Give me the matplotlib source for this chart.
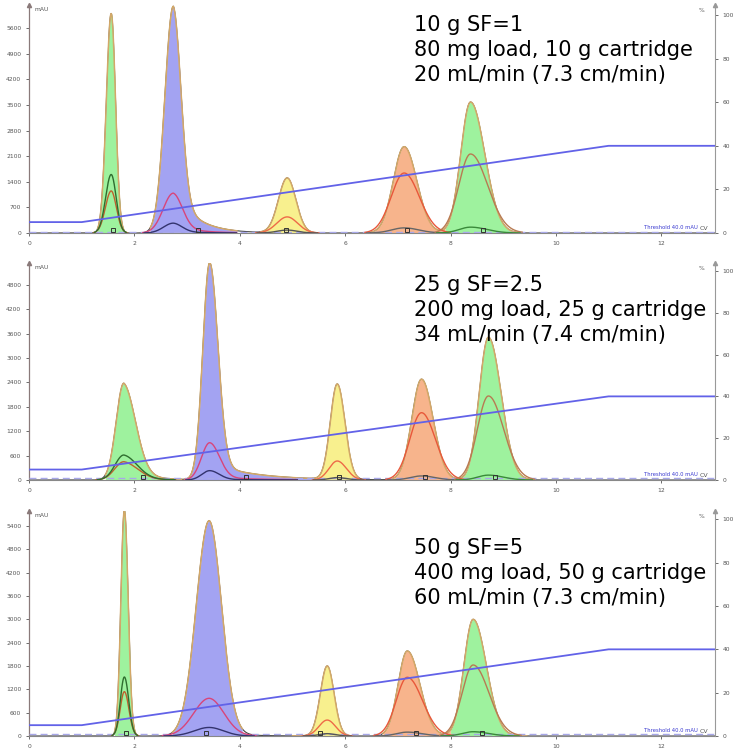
import numpy as np
import matplotlib.pyplot as plt

# gradient, % B vs CV (same method for all three runs)
grad_cv = [0, 1, 11, 13.02]
grad_pct = [5, 5, 40, 40]

# run 1: 10 g SF=1
r1_apex = [1.56, 2.74, 4.90, 7.12, 8.38]
r1_mau = [6000, 6200, 1500, 2360, 3580]
r1_wl = [0.092, 0.16, 0.165, 0.205, 0.185]
r1_wr = [0.082, 0.145, 0.165, 0.24, 0.27]
r1_tail = [0.0, 0.2, 0.0, 0.0, 0.0]
r1_tau = [0.3, 0.4, 0.3, 0.3, 0.3]
r1_red = [1150, 1090, 440, 1640, 2160]
r1_dark = [1600, 270, 80, 140, 160]
r1_frac = [(1.3, 1.8), (2.3, 3.95), (4.4, 5.45), (6.5, 7.9), (7.9, 9.35)]
r1_marks = [1.6, 3.2, 4.88, 7.17, 8.61]

# run 2: 25 g SF=2.5
r2_apex = [1.80, 3.43, 5.85, 7.45, 8.72]
r2_mau = [2380, 5340, 2340, 2476, 3509]
r2_wl = [0.145, 0.13, 0.13, 0.185, 0.175]
r2_wr = [0.225, 0.155, 0.145, 0.22, 0.24]
r2_tail = [0.15, 0.08, 0.0, 0.0, 0.0]
r2_tau = [0.35, 0.8, 0.3, 0.3, 0.3]
r2_red = [450, 917, 467, 1655, 2066]
r2_dark = [615, 230, 60, 100, 120]
r2_frac = [(1.45, 2.9), (2.95, 5.38), (5.38, 6.25), (6.9, 8.2), (8.2, 9.6)]
r2_marks = [2.17, 4.11, 5.88, 7.51, 8.84]

# run 3: 50 g SF=5
r3_apex = [1.81, 3.42, 5.66, 7.18, 8.43]
r3_mau = [5800, 5537, 1800, 2186, 3000]
r3_wl = [0.066, 0.245, 0.13, 0.175, 0.175]
r3_wr = [0.072, 0.235, 0.13, 0.24, 0.25]
r3_tail = [0.0, 0.03, 0.0, 0.0, 0.0]
r3_tau = [0.3, 0.4, 0.3, 0.3, 0.3]
r3_red = [1140, 970, 410, 1510, 1826]
r3_dark = [1517, 220, 60, 100, 110]
r3_frac = [(1.62, 2.05), (2.72, 4.05), (5.0, 6.1), (6.72, 8.0), (8.0, 9.45)]
r3_marks = [1.85, 3.36, 5.52, 7.34, 8.6]

labels = ["10 g SF=1\n80 mg load, 10 g cartridge\n20 mL/min (7.3 cm/min)",
          "25 g SF=2.5\n200 mg load, 25 g cartridge\n34 mL/min (7.4 cm/min)",
          "50 g SF=5\n400 mg load, 50 g cartridge\n60 mL/min (7.3 cm/min)"]

fill_cols = ['#9ef29e', '#a3a3f2', '#f8f08e', '#f7b48c', '#9ef29e']
red_cols = ['#c0602e', '#d8457a', '#ee6a48', '#e8583a', '#b87a52']
dark_cols = ['#2f6e2f', '#33336e', '#555555', '#666666', '#3a8a3a']
edge_col = '#d3a868'


def peak(t, c, h, sl, sr, a, tau):
    left = np.exp(-0.5 * ((t - c) / sl) ** 2)
    right = (1 - a) * np.exp(-0.5 * ((t - c) / sr) ** 2) + a * np.exp(-np.clip(t - c, 0, None) / tau)
    return h * np.where(t < c, left, right)


runs = [
    (r1_apex, r1_mau, r1_wl, r1_wr, r1_tail, r1_tau, r1_red, r1_dark, r1_frac, r1_marks),
    (r2_apex, r2_mau, r2_wl, r2_wr, r2_tail, r2_tau, r2_red, r2_dark, r2_frac, r2_marks),
    (r3_apex, r3_mau, r3_wl, r3_wr, r3_tail, r3_tau, r3_red, r3_dark, r3_frac, r3_marks),
]

# pixel layout of the three panels (top, bottom of plot area)
W, H = 738, 748
boxes = [(5, 233), (263, 480), (510.7, 736)]
ymax = [6234, 5336, 5794]
ytick_step = [700, 600, 600]
ytick_max = [5600, 4800, 5400]
pct_top = [104.6, 103.8, 104.0]
text_y = [15, 275, 538]

fig = plt.figure(figsize=(W / 100, H / 100), dpi=100)
t = np.linspace(0, 13.02, 3000)
tick_kw = dict(labelsize=4.3, colors='#555555', length=2, width=0.6)

for i, run in enumerate(runs):
    apex, mau, wl, wr, tail, tau, red, dark, frac, marks = run
    top, bot = boxes[i]
    ax = fig.add_axes([29 / W, 1 - bot / H, (715 - 29) / W, (bot - top) / H])
    ax.set_xlim(0, 13.02)
    ax.set_ylim(0, ymax[i])

    total = np.zeros_like(t)
    for k in range(len(apex)):
        total += peak(t, apex[k], mau[k], wl[k], wr[k], tail[k], tau[k])

    ax.plot(t, total, color='#444444', lw=0.8, zorder=2)
    for k, (s, e) in enumerate(frac):
        m = (t >= s) & (t <= e)
        ax.fill_between(t[m], 0, total[m], color=fill_cols[k], lw=0, zorder=2)
        ax.plot(t[m], total[m], color=edge_col, lw=1.1, zorder=3)

    for k in range(len(apex)):
        yr = peak(t, apex[k], red[k], wl[k] * 1.2, wr[k] * 1.2, tail[k], tau[k])
        m = yr > red[k] * 0.01
        ax.plot(t[m], yr[m], color=red_cols[k], lw=1.0, zorder=4)
        yd = peak(t, apex[k], dark[k], wl[k] * 1.15, wr[k] * 1.15, tail[k], tau[k])
        m = yd > dark[k] * 0.01
        ax.plot(t[m], yd[m], color=dark_cols[k], lw=1.0, zorder=4)

    ax.axhline(40, color='#a8a8e8', lw=1.0, ls=(0, (5, 3)), zorder=3)
    for x in marks:
        ax.plot(x, ymax[i] * 0.012, marker='s', ms=2.6, mfc='none', mec='#333333',
                mew=0.7, zorder=5)

    ax.set_yticks(np.arange(0, ytick_max[i] + 1, ytick_step[i]))
    ax.set_xticks(np.arange(0, 13, 2))
    ax.tick_params(axis='both', **tick_kw)
    for sp in ['top', 'right']:
        ax.spines[sp].set_visible(False)
    ax.spines['left'].set_color('#8a7a7a')
    ax.spines['bottom'].set_color('#888888')
    ax.spines['left'].set_linewidth(0.9)
    ax.spines['bottom'].set_linewidth(0.8)
    ax.plot(0, 1, marker='^', ms=3, color='#8a7a7a', transform=ax.transAxes, clip_on=False)
    ax.text(0.008, 0.99, 'mAU', transform=ax.transAxes, fontsize=4.3, color='#555555', va='top')
    ax.text(0.99, 0.015, 'CV', transform=ax.transAxes, fontsize=4.5, color='#555555', ha='right')
    ax.text(0.975, 0.012, 'Threshold 40.0 mAU', transform=ax.transAxes, fontsize=3.8,
            color='#3a3ad0', ha='right', va='bottom')

    ax2 = ax.twinx()
    ax2.set_ylim(0, pct_top[i])
    ax2.set_yticks(np.arange(0, 101, 20))
    ax2.tick_params(axis='y', **tick_kw)
    for sp in ['top', 'left', 'bottom']:
        ax2.spines[sp].set_visible(False)
    ax2.spines['right'].set_color('#999999')
    ax2.spines['right'].set_linewidth(0.8)
    ax2.plot(grad_cv, grad_pct, color='#6262e8', lw=1.3, zorder=6)
    ax2.plot(1, 1, marker='^', ms=3, color='#999999', transform=ax2.transAxes, clip_on=False)
    ax2.text(0.985, 0.985, '%', transform=ax2.transAxes, fontsize=4.3, color='#555555',
             ha='right', va='top')

    fig.text(414 / W, 1 - text_y[i] / H, labels[i], fontsize=15, va='top', ha='left',
             color='black', linespacing=1.3)

fig.savefig('out.png', dpi=100)
